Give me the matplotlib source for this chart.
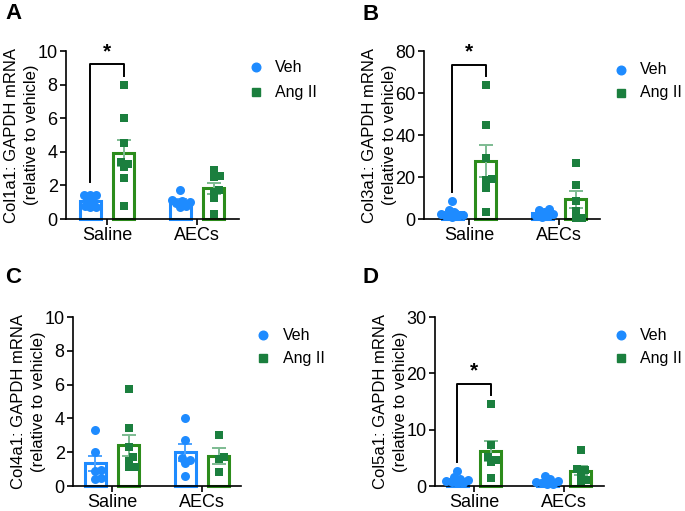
import numpy as np
import matplotlib
matplotlib.use("Agg")
import matplotlib.pyplot as plt
from matplotlib.lines import Line2D

plt.rcParams['font.family'] = ['Liberation Sans', 'DejaVu Sans']

# ---------------- data ----------------
categories = ["Saline", "AECs"]
groups = ["Veh", "Ang II"]

col1a1_veh = [[1.45, 1.45, 1.4, 1.1, 1.0, 0.8, 0.7, 0.7],
              [1.75, 1.15, 1.1, 1.0, 0.95, 0.8, 0.7]]
col1a1_ang = [[8.0, 6.0, 4.5, 3.4, 3.3, 3.1, 2.45, 0.8],
              [2.9, 2.55, 2.5, 1.7, 1.6, 1.25, 0.3]]

col3a1_veh = [[8.7, 4.5, 3.5, 2.5, 2.0, 1.5, 1.2, 1.0],
              [4.8, 4.2, 3.5, 2.5, 1.5, 1.2, 1.0]]
col3a1_ang = [[64.0, 45.0, 29.0, 19.0, 18.5, 15.0, 3.5],
              [26.5, 16.0, 8.5, 4.0, 0.5, 0.5]]

col4a1_veh = [[3.3, 2.0, 0.95, 0.9, 0.5, 0.4],
              [4.0, 2.75, 1.65, 1.55, 1.37, 0.6]]
col4a1_ang = [[5.75, 3.45, 2.3, 1.7, 1.45, 1.1, 1.1],
              [3.0, 1.7, 1.6, 0.8]]

col5a1_veh = [[2.6, 1.6, 1.3, 1.1, 0.9, 0.7, 0.6, 0.5],
              [1.8, 1.2, 0.9, 0.7, 0.5, 0.4, 0.3]]
col5a1_ang = [[14.6, 7.2, 5.2, 4.6, 4.3, 1.5],
              [6.4, 3.0, 2.9, 2.3, 1.0, 0.8]]

ylabels = ["Col1a1: GAPDH mRNA\n(relative to vehicle)",
           "Col3a1: GAPDH mRNA\n(relative to vehicle)",
           "Col4a1: GAPDH mRNA\n(relative to vehicle)",
           "Col5a1: GAPDH mRNA\n(relative to vehicle)"]
ymaxes = [10, 80, 10, 30]
ytick_steps = [2, 20, 2, 10]
panel_letters = ["A", "B", "C", "D"]
# significance: (y of left leg bottom, y top, y right leg bottom) or None
brackets = [(2.2, 9.2, 8.5), (13.0, 73.5, 68.0), None, (4.3, 18.1, 16.2)]

# ---------------- layout (pixels) ----------------
W, H = 685, 511
# spine x, right end x, saline tick x, top y, bottom y
layout = [(66, 239, 107, 51, 219),
          (424, 600, 469, 51, 219),
          (73, 241, 112, 317, 486),
          (435, 604, 474, 317, 486)]
letter_pos = [(5, 3), (363, 4), (5, 267), (363, 267)]
legend_pos = [(256, 67, 275, 92), (621, 70, 640, 93),
              (263, 335, 283, 358), (621, 335, 640, 358)]

BLUE = '#1E8BFF'
GREEN_M = '#1B7F3E'
GREEN_E = '#2C8C1C'
GREEN_ERR = '#7DBB92'
BLUE_ERR = '#4DA3FF'

FS_TICK = 13
FS_LAB = 12
FS_LEG = 11.5
offset = 0.185
barw = 0.235
diam_px = 5.6
max_off_px = 11.0

fig = plt.figure(figsize=(W / 100, H / 100), dpi=100)


def swarm(vals, px_per_y, d, lim):
    vals = np.asarray(vals, float)
    order = np.argsort(vals)
    placed = []
    offs = np.zeros(len(vals))
    cands = [0.0]
    k = 1
    while k * 0.5 <= lim:
        cands += [k * 0.5, -k * 0.5]
        k += 1
    for i in order:
        y = vals[i] * px_per_y
        best, bestd = 0.0, -1
        chosen = None
        for c in cands:
            md = min([np.hypot(c - px, y - py) for (px, py) in placed] + [1e9])
            if md >= d:
                chosen = c
                break
            if md > bestd:
                bestd, best = md, c
        if chosen is None:
            chosen = best
        offs[i] = chosen
        placed.append((chosen, y))
    return offs


datasets = [(col1a1_veh, col1a1_ang), (col3a1_veh, col3a1_ang),
            (col4a1_veh, col4a1_ang), (col5a1_veh, col5a1_ang)]

for p in range(4):
    sx, rx, cx, ty, by = layout[p]
    ax = fig.add_axes([sx / W, (H - by) / H, (rx - sx) / W, (by - ty) / H])
    ppu = 90.0
    ax.set_xlim((sx - cx) / ppu, (rx - cx) / ppu)
    ymax = ymaxes[p]
    ax.set_ylim(0, ymax)
    px_per_y = (by - ty) / ymax
    veh, ang = datasets[p]
    for ci in range(len(categories)):
        for gi, (vals, col, ecol, errc, mk, ms) in enumerate([
                (veh[ci], BLUE, BLUE, BLUE_ERR, 'o', 42),
                (ang[ci], GREEN_M, GREEN_E, GREEN_ERR, 's', 32)]):
            xc = ci + (-offset if gi == 0 else offset)
            v = np.asarray(vals, float)
            m = v.mean()
            sem = v.std(ddof=1) / np.sqrt(len(v))
            ax.bar(xc, m, width=barw, facecolor='white', edgecolor=ecol,
                   linewidth=2.2, zorder=1, clip_on=False)
            ax.errorbar(xc, m, yerr=sem, fmt='none', ecolor=errc,
                        elinewidth=1.4, capsize=5, capthick=1.4, zorder=2)
            offs = swarm(v, px_per_y, diam_px, max_off_px) / ppu
            ax.scatter(xc + offs, v, s=ms, marker=mk, color=col,
                       linewidths=0, zorder=3, clip_on=False)
    # bracket
    br = brackets[p]
    if br is not None:
        x1, x2 = -offset, offset
        ax.plot([x1, x1, x2, x2], [br[0], br[1], br[1], br[2]],
                color='black', lw=1.4, zorder=4, clip_on=False)
        ax.text(0, br[1] + ymax * 0.02, '*', ha='center', va='bottom',
                fontsize=15, fontweight='bold', color='black')
    # axes style
    for s in ['top', 'right']:
        ax.spines[s].set_visible(False)
    for s in ['left', 'bottom']:
        ax.spines[s].set_linewidth(1.2)
        ax.spines[s].set_color('black')
    yt = np.arange(0, ymax + 0.01, ytick_steps[p])
    ax.set_yticks(yt)
    ax.set_yticklabels([str(int(t)) for t in yt])
    ax.set_xticks(range(len(categories)))
    ax.set_xticklabels(categories)
    ax.tick_params(axis='both', labelsize=FS_TICK, width=1.2, length=4.5,
                   color='black', pad=1.5)
    ax.tick_params(axis='x', pad=1.5)
    ax.set_ylabel(ylabels[p], fontsize=FS_LAB, labelpad=-1, linespacing=1.4)
    ax.patch.set_alpha(0)

    # letter
    lx, ly = letter_pos[p]
    fig.text(lx / W, 1 - ly / H, panel_letters[p], fontsize=16,
             fontweight='bold', ha='left', va='top')
    # legend
    mx, my, tx, my2 = legend_pos[p]
    fig.add_artist(Line2D([mx / W], [1 - my / H], marker='o', color=BLUE,
                          markersize=6.2, linestyle='none',
                          transform=fig.transFigure))
    fig.add_artist(Line2D([mx / W], [1 - my2 / H], marker='s', color=GREEN_M,
                          markersize=5.4, linestyle='none',
                          transform=fig.transFigure))
    fig.text(tx / W, 1 - my / H, groups[0], fontsize=FS_LEG, ha='left',
             va='center')
    fig.text(tx / W, 1 - my2 / H, groups[1], fontsize=FS_LEG, ha='left',
             va='center')

fig.savefig('out.png', dpi=100)
